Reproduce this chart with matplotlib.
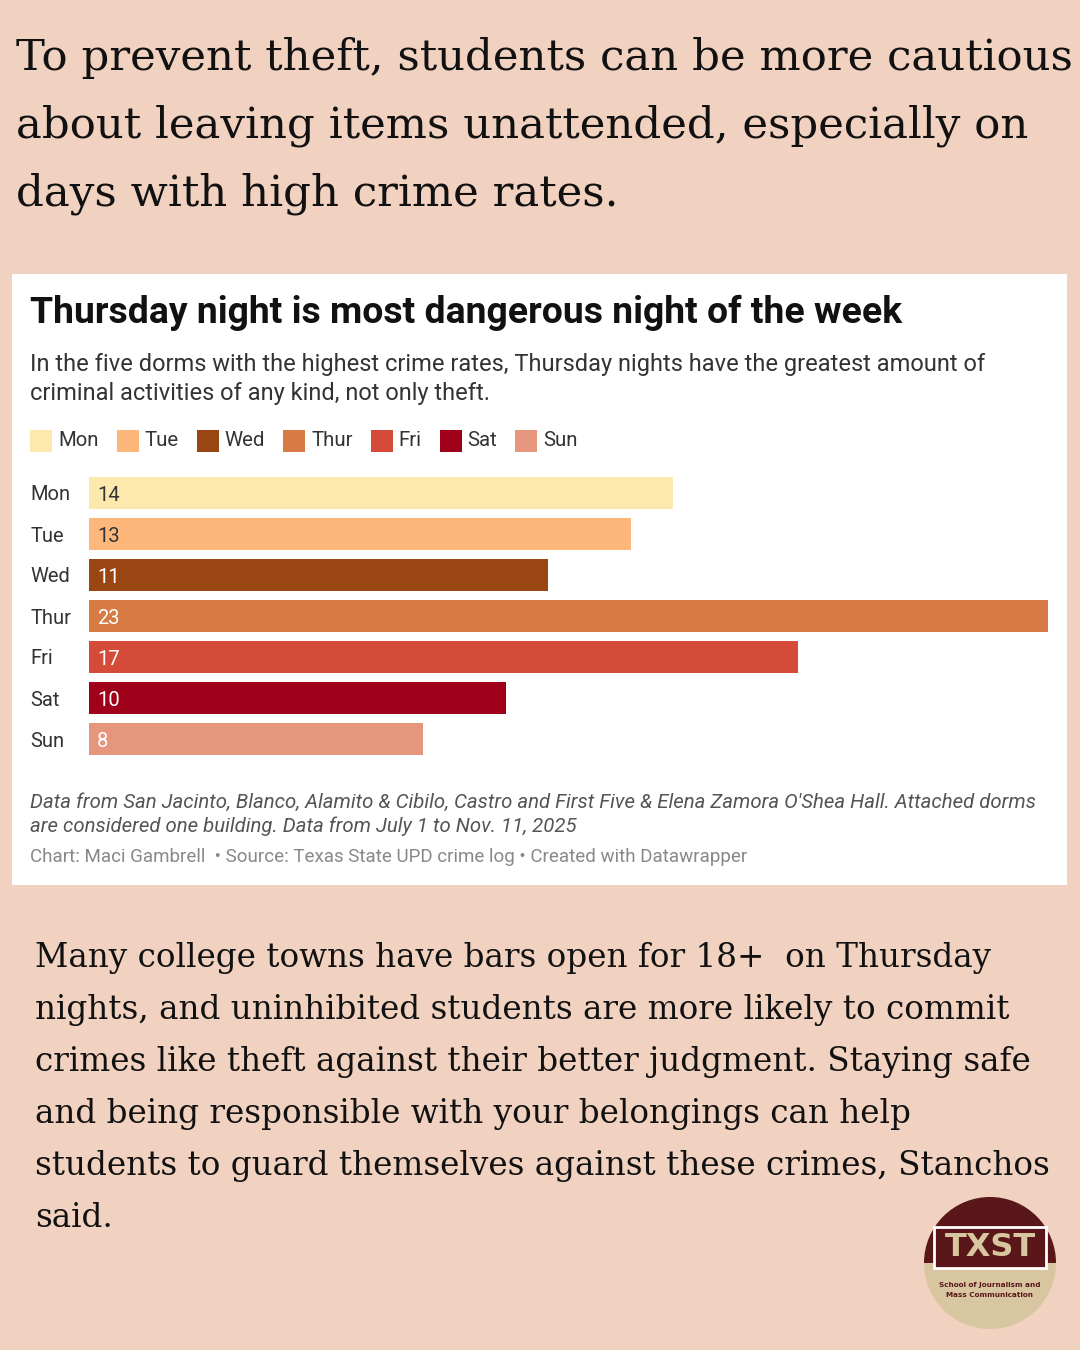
import matplotlib
matplotlib.use("Agg")
import matplotlib.pyplot as plt
from matplotlib.patches import Rectangle, Circle, Wedge

days = ["Mon", "Tue", "Wed", "Thur", "Fri", "Sat", "Sun"]
counts = [14, 13, 11, 23, 17, 10, 8]
colors = ["#FDE9AE", "#FDB77A", "#9A4612", "#D77A44", "#D54B3A", "#9E0119", "#E6967D"]
label_colors = ["#333333", "#333333", "#FFFFFF", "#FFFFFF", "#FFFFFF", "#FFFFFF", "#FFFFFF"]

headline = ["To prevent theft, students can be more cautious",
            "about leaving items unattended, especially on",
            "days with high crime rates."]
title = "Thursday night is most dangerous night of the week"
subtitle = ["In the five dorms with the highest crime rates, Thursday nights have the greatest amount of",
            "criminal activities of any kind, not only theft."]
notes = ["Data from San Jacinto, Blanco, Alamito & Cibilo, Castro and First Five & Elena Zamora O'Shea Hall. Attached dorms",
         "are considered one building. Data from July 1 to Nov. 11, 2025"]
credit = "Chart: Maci Gambrell  \u2022 Source: Texas State UPD crime log \u2022 Created with Datawrapper"
body = ["Many college towns have bars open for 18+  on Thursday",
        "nights, and uninhibited students are more likely to commit",
        "crimes like theft against their better judgment. Staying safe",
        "and being responsible with your belongings can help",
        "students to guard themselves against these crimes, Stanchos",
        "said."]

W, H = 1080, 1350
BG = "#F1D1BF"
fig = plt.figure(figsize=(W / 100, H / 100), dpi=100, facecolor=BG)

def fx(x):
    return x / W

def fy(y):
    return 1 - y / H

# white chart panel
fig.patches.append(Rectangle((fx(12), fy(885)), fx(1067) - fx(12), fy(274) - fy(885),
                             transform=fig.transFigure, facecolor="white", edgecolor="none", zorder=-5))

serif = "DejaVu Serif"
sans = "Roboto"

for i, line in enumerate(headline):
    fig.text(fx(16), fy(58 + 68 * i), line, fontsize=31.3, family=serif, color="#111111", va="center", ha="left")

fig.text(fx(30), fy(313), title, fontsize=26.9, family=sans, weight="bold", color="#111111", va="center")
for i, line in enumerate(subtitle):
    fig.text(fx(30), fy(365 + 29 * i), line, fontsize=17, family=sans, color="#333333", va="center")

# legend (manual)
fig.canvas.draw()
renderer = fig.canvas.get_renderer()
x = 30
for d, c in zip(days, colors):
    fig.patches.append(Rectangle((fx(x), fy(452)), fx(22), fy(430) - fy(452),
                                 transform=fig.transFigure, facecolor=c, edgecolor="none"))
    t = fig.text(fx(x + 28), fy(441), d, fontsize=14.7, family=sans, color="#333333", va="center")
    bb = t.get_window_extent(renderer)
    x = x + 28 + bb.width + 18

# bar axes
ax = fig.add_axes([fx(89), fy(759.5), fx(1048) - fx(89), fy(472.5) - fy(759.5)])
ax.set_facecolor("none")
ypos = list(range(len(days)))
ax.barh(ypos, counts, height=0.8, color=colors)
ax.set_xlim(0, max(counts))
ax.set_ylim(len(days) - 0.5, -0.5)
for s in ax.spines.values():
    s.set_visible(False)
ax.set_xticks([])
ax.set_yticks(ypos)
ax.set_yticklabels(days, family=sans, fontsize=14.5, color="#333333", ha="left")
ax.tick_params(axis="y", length=0, pad=42)
for yv, v, lc in zip(ypos, counts, label_colors):
    ax.text(0.2, yv + 0.06, str(v), va="center", ha="left", fontsize=14.5, family=sans, color=lc)

for i, line in enumerate(notes):
    fig.text(fx(30), fy(802 + 24 * i), line, fontsize=14.7, family=sans, style="italic", color="#555555", va="center")
fig.text(fx(30), fy(857), credit, fontsize=13.5, family=sans, color="#888888", va="center")

for i, line in enumerate(body):
    fig.text(fx(35), fy(958 + 52 * i), line, fontsize=23.5, family=serif, color="#111111", va="center")

# logo
cx, cy, r = 990, 1263, 66
lax = fig.add_axes([fx(cx - r), fy(cy + r), fx(2 * r), fy(cy - r) - fy(cy + r)])
lax.set_xlim(-1, 1)
lax.set_ylim(-1, 1)
lax.set_aspect("equal")
lax.axis("off")
lax.add_patch(Circle((0, 0), 1, facecolor="#D8C6A0", edgecolor="none"))
lax.add_patch(Wedge((0, 0), 1, 0, 180, facecolor="#5A1719", edgecolor="none"))
lax.add_patch(Rectangle((-0.85, -0.08), 1.7, 0.62, facecolor="#5A1719", edgecolor="white", linewidth=2))
lax.text(0, 0.23, "TXST", ha="center", va="center", fontsize=23, weight="bold", family="DejaVu Sans Condensed",
         color="#D8C6A0")
lax.text(0, -0.33, "School of Journalism and", ha="center", va="center", fontsize=5.2, weight="bold", color="#5A1719")
lax.text(0, -0.49, "Mass Communication", ha="center", va="center", fontsize=5.2, weight="bold", color="#5A1719")

fig.savefig("out.png", dpi=100, facecolor=BG)
